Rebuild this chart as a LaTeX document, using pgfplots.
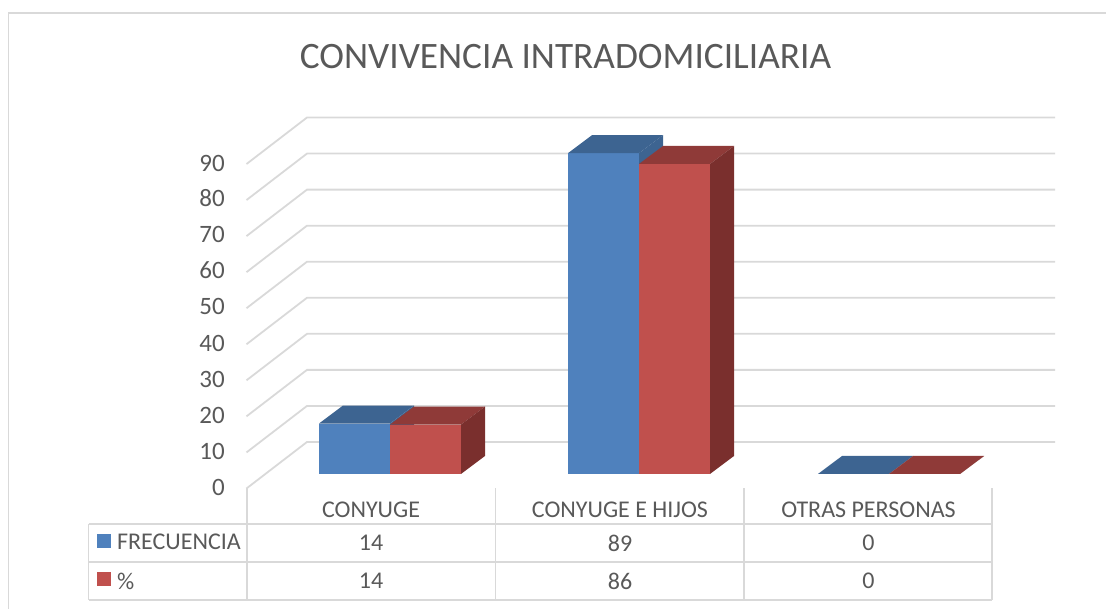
\documentclass[border=0pt]{standalone}
\usepackage{pgfplots}
\pgfplotsset{compat=1.18}
\usepackage{fontspec}
\setmainfont{Carlito}
\definecolor{txt}{HTML}{595959}
\definecolor{gridc}{HTML}{D9D9D9}
\definecolor{bluef}{HTML}{4F81BD}
\definecolor{bluet}{HTML}{3D6491}
\definecolor{redf}{HTML}{C0504D}
\definecolor{redt}{HTML}{8F3A38}
\definecolor{reds}{HTML}{7A2F2D}
% one bar: left x, value, front, top, side colours
\newcommand{\barthreed}[5]{%
  \addplot[fill=#3,draw=none,forget plot] coordinates {(#1,0) ({#1+71},0) ({#1+71},#2) (#1,#2)} -- cycle;
  \addplot[fill=#4,draw=none,forget plot] coordinates {(#1,#2) ({#1+24},{#2+4.99}) ({#1+95},{#2+4.99}) ({#1+71},#2)} -- cycle;
  \addplot[fill=#5,draw=none,forget plot] coordinates {({#1+71},0) ({#1+95},4.99) ({#1+95},{#2+4.99}) ({#1+71},#2)} -- cycle;
}
\newcommand{\gridl}[1]{%
  \addplot[gridc,line width=1.8pt,forget plot] coordinates {(246.5,{#1-4.02}) (307,{#1+8.88}) (1055,{#1+8.88})};
}
\newcommand{\rl}[4]{% table rule
  \addplot[gridc,line width=1.8pt,forget plot] coordinates {(#1,#2) (#3,#4)};
}
% text at x, pixel row y, anchor, size, text
\newcommand{\tx}[5]{%
  \path (axis cs:#1,{(474-#2)/3.605}) node[anchor=#3,inner sep=0pt,text=txt,font=\fontsize{#4}{#4}\selectfont] {#5};
}
\begin{document}
\begin{tikzpicture}
\useasboundingbox (0,0) rectangle (1106pt,609pt);
\begin{axis}[
  scale only axis,width=1106pt,height=609pt,
  xmin=0,xmax=1106,ymin=-37.45,ymax=131.48,
  hide axis,clip=true,
]
% frame
\addplot[gridc,line width=1.8pt,forget plot] coordinates {(8.5,-37.45) (8.5,127.98) (1106,127.98)};
% grid
\gridl{0}\gridl{10}\gridl{20}\gridl{30}\gridl{40}\gridl{50}\gridl{60}\gridl{70}\gridl{80}\gridl{90}
% bars
\barthreed{319}{14}{bluef}{bluet}{bluet}
\barthreed{390}{13.7}{redf}{redt}{reds}
\barthreed{568}{89}{bluef}{bluet}{bluet}
\barthreed{639}{86}{redf}{redt}{reds}
\barthreed{818}{0}{bluef}{bluet}{bluet}
\barthreed{889}{0}{redf}{redt}{reds}
% table
\rl{88.5}{-13.9}{992}{-13.9}
\rl{88.5}{-24.4}{992}{-24.4}
\rl{88.5}{-35}{992}{-35}
\rl{88.5}{-13.9}{88.5}{-35}
\rl{247}{-4}{247}{-35}
\rl{495.5}{-4}{495.5}{-35}
\rl{744}{-4}{744}{-35}
\rl{992}{-4}{992}{-35}
% legend keys
\addplot[fill=bluef,draw=none,forget plot] coordinates {(97,-16.6) (111,-16.6) (111,-20.5) (97,-20.5)} -- cycle;
\addplot[fill=redf,draw=none,forget plot] coordinates {(97,-27.2) (111,-27.2) (111,-31.1) (97,-31.1)} -- cycle;
% texts
\tx{565.5}{57}{center}{37.3}{CONVIVENCIA INTRADOMICILIARIA}
\tx{225}{487.5}{east}{25}{0}
\tx{225}{451.5}{east}{25}{10}
\tx{225}{415.5}{east}{25}{20}
\tx{225}{379.5}{east}{25}{30}
\tx{225}{343.5}{east}{25}{40}
\tx{225}{306.5}{east}{25}{50}
\tx{225}{270.5}{east}{25}{60}
\tx{225}{234.5}{east}{25}{70}
\tx{225}{198.5}{east}{25}{80}
\tx{225}{163.5}{east}{25}{90}
\tx{371}{509.5}{center}{24}{CONYUGE}
\tx{620}{509.5}{center}{24}{CONYUGE E HIJOS}
\tx{868.5}{509.5}{center}{24}{OTRAS PERSONAS}
\tx{117}{542}{west}{24}{FRECUENCIA}
\tx{117}{581}{west}{24}{\%}
\tx{371}{543}{center}{24}{14}
\tx{620}{543}{center}{24}{89}
\tx{868.5}{543}{center}{24}{0}
\tx{371}{581}{center}{24}{14}
\tx{620}{581}{center}{24}{86}
\tx{868.5}{581}{center}{24}{0}
\end{axis}
\end{tikzpicture}
\end{document}
